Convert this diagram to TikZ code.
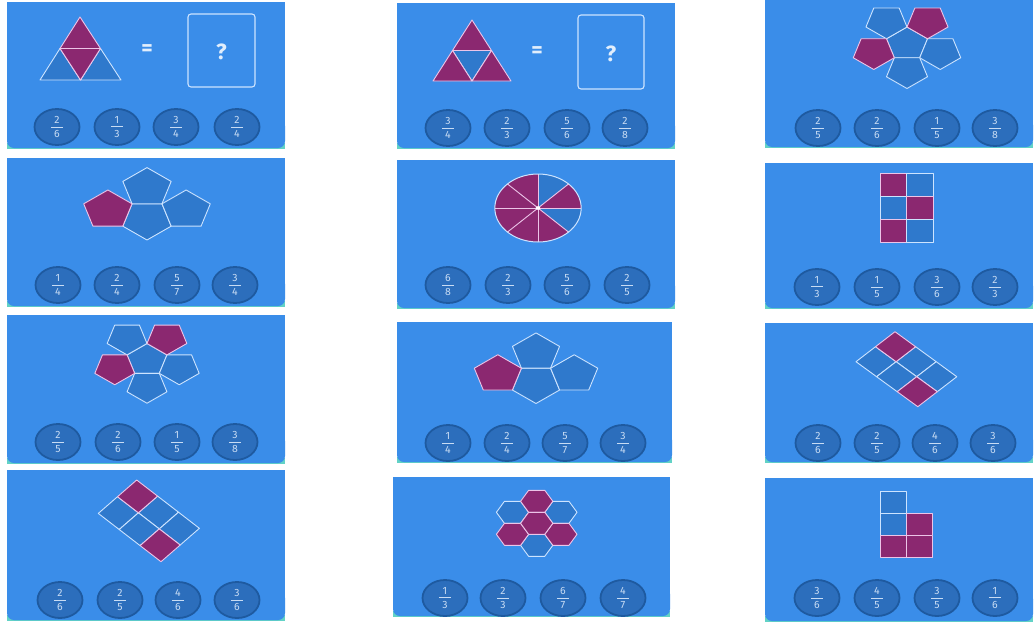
\documentclass[tikz,border=0pt]{standalone}
\usepackage{fontspec}
\newfontfamily\ff{Fira Sans}
\usetikzlibrary{shapes.geometric}
\definecolor{panelblue}{RGB}{58,141,233}
\definecolor{shapeblue}{RGB}{47,121,204}
\definecolor{purp}{RGB}{139,40,112}
\definecolor{btnfill}{RGB}{44,110,188}
\definecolor{btnedge}{RGB}{30,90,160}
\definecolor{txtcol}{RGB}{200,220,244}
\definecolor{edgecol}{RGB}{205,228,255}
\definecolor{pinkedge}{RGB}{236,196,232}
\definecolor{symcol}{RGB}{225,238,252}
\definecolor{tealc}{RGB}{98,210,198}
\newcommand\fr[2]{\vbox{\hbox to 12pt{\hss#1\hss}\kern3pt\hrule height 0.8pt\kern3pt\hbox to 12pt{\hss#2\hss}}}
\newcommand\panel[4]{%
  \fill[tealc] (#1,#4-6) rectangle (#3,#4);
  \fill[panelblue] (#1,#2) rectangle (#3,#4-15);
  \fill[panelblue,rounded corners=7pt] (#1,#4-30) rectangle (#3,#4-1);}
\newcommand\pg[4]{\filldraw[#4,shift={#1}] (#3:#2) -- (#3+72:#2) -- (#3+144:#2) -- (#3+216:#2) -- (#3+288:#2) -- cycle;}
\newcommand\hx[3]{\filldraw[#3,shift={#1}] (0:#2) -- (60:#2) -- (120:#2) -- (180:#2) -- (240:#2) -- (300:#2) -- cycle;}
\newcommand\dc[5]{\filldraw[#5] (#1,#2) -- (#3,#2) -- (#3,#4) -- (#1,#4) -- cycle;}
\begin{document}
\begin{tikzpicture}[x=1pt,y=-1pt,
  shp/.style={draw=edgecol,line width=0.9pt,line join=round},
  blu/.style={shp,fill=shapeblue},
  pur/.style={shp,fill=purp,draw=pinkedge},
  btn/.style={ellipse,draw=btnedge,line width=1.8pt,fill=btnfill,minimum width=45pt,minimum height=36pt,inner sep=0pt,text=txtcol,font=\ff\fontsize{10.5}{10.5}\selectfont},
  qbox/.style={draw=edgecol,line width=1.1pt,rounded corners=3pt},
  sym/.style={text=symcol,font=\ff\bfseries\fontsize{22}{22}\selectfont,inner sep=0pt}]
\fill[white] (0,0) rectangle (1035,627);
\useasboundingbox (0,0) rectangle (1035,627);

% panels
\panel{7}{2}{285}{149}
\panel{397}{3}{675}{149}
\panel{765}{0}{1033}{148}
\panel{7}{158}{285}{307}
\panel{397}{160}{675}{309}
\panel{765}{163}{1033}{309}
\panel{7}{315}{285}{464}
\panel{397}{322}{672}{463}
\panel{765}{323}{1033}{463}
\panel{7}{470}{285}{621}
\panel{393}{477}{670}{617}
\panel{765}{478}{1033}{622}

% ---- panel 1: triangle
\filldraw[blu] (60,48.5) -- (40,80) -- (80.5,80) -- cycle;
\filldraw[blu] (100.5,48.5) -- (80.5,80) -- (121,80) -- cycle;
\filldraw[pur] (80,17) -- (60,48.5) -- (100.5,48.5) -- cycle;
\filldraw[pur] (60,48.5) -- (100.5,48.5) -- (80.5,80) -- cycle;
\node[sym] (eq1) at (147,50) {=};
\draw[qbox] (188,14) rectangle (255,87);
\node[sym] (q1) at (221.5,52) {?};
\node[btn] (p1a) at (57,127) {\fr{2}{6}};
\node[btn] (p1b) at (117,127) {\fr{1}{3}};
\node[btn] (p1c) at (176,127) {\fr{3}{4}};
\node[btn] (p1d) at (237,127) {\fr{2}{4}};

% ---- panel 2: triangle
\filldraw[blu] (452.5,50.5) -- (491.5,50.5) -- (472,81) -- cycle;
\filldraw[pur] (472,20) -- (452.5,50.5) -- (491.5,50.5) -- cycle;
\filldraw[pur] (452.5,50.5) -- (433,81) -- (472,81) -- cycle;
\filldraw[pur] (491.5,50.5) -- (472,81) -- (511,81) -- cycle;
\node[sym] (eq2) at (537,52) {=};
\draw[qbox] (578,15) rectangle (644,89);
\node[sym] (q2) at (611,54) {?};
\node[btn] (p2a) at (448,128) {\fr{3}{4}};
\node[btn] (p2b) at (507,128) {\fr{2}{3}};
\node[btn] (p2c) at (567,128) {\fr{5}{6}};
\node[btn] (p2d) at (625,128) {\fr{2}{8}};

% ---- panel 3: pentagon flower
\begin{scope}[shift={(907,44)},xscale=1.27]
\pg{(0,0)}{17}{-90}{blu}
\pg{(234:27.5)}{17}{234}{blu}
\pg{(18:27.5)}{17}{18}{blu}
\pg{(90:27.5)}{17}{90}{blu}
\pg{(-54:27.5)}{17}{-54}{pur}
\pg{(162:27.5)}{17}{162}{pur}
\end{scope}
\node[btn] (p3a) at (818,128) {\fr{2}{5}};
\node[btn] (p3b) at (877,128) {\fr{2}{6}};
\node[btn] (p3c) at (937,128) {\fr{1}{5}};
\node[btn] (p3d) at (995,128) {\fr{3}{8}};

% ---- panel 4: four pentagons
\begin{scope}[shift={(147,220)},xscale=1.27]
\pg{(0,0)}{20}{90}{blu}
\pg{(270:32.4)}{20}{270}{blu}
\pg{(342:32.4)}{20}{342}{blu}
\pg{(198:32.4)}{20}{198}{pur}
\end{scope}
\node[btn] (p4a) at (58,285) {\fr{1}{4}};
\node[btn] (p4b) at (117,285) {\fr{2}{4}};
\node[btn] (p4c) at (177,285) {\fr{5}{7}};
\node[btn] (p4d) at (235,285) {\fr{3}{4}};

% ---- panel 5: circle
\begin{scope}[shift={(538,208)},xscale=1.27]
\fill[shapeblue] (0,0) -- (-90:34) arc[start angle=-90,end angle=-45,radius=34] -- cycle;
\fill[purp] (0,0) -- (-45:34) arc[start angle=-45,end angle=0,radius=34] -- cycle;
\fill[shapeblue] (0,0) -- (0:34) arc[start angle=0,end angle=45,radius=34] -- cycle;
\fill[purp] (0,0) -- (45:34) arc[start angle=45,end angle=270,radius=34] -- cycle;
\foreach \a in {0,45,...,315} \draw[pinkedge,line width=0.9pt] (0,0) -- (\a:34);
\draw[edgecol,line width=1pt] (0,0) circle[radius=34];
\fill[white] (0,0) circle[radius=1.8];
\end{scope}
\node[btn] (p5a) at (448,285) {\fr{6}{8}};
\node[btn] (p5b) at (508,285) {\fr{2}{3}};
\node[btn] (p5c) at (567,285) {\fr{5}{6}};
\node[btn] (p5d) at (627,285) {\fr{2}{5}};

% ---- panel 6: 2x3 grid
\dc{880}{173.3}{906.7}{196.3}{pur}
\dc{906.7}{173.3}{933.3}{196.3}{blu}
\dc{880}{196.3}{906.7}{219.3}{blu}
\dc{906.7}{196.3}{933.3}{219.3}{pur}
\dc{880}{219.3}{906.7}{242.3}{pur}
\dc{906.7}{219.3}{933.3}{242.3}{blu}
\node[btn] (p6a) at (817,287) {\fr{1}{3}};
\node[btn] (p6b) at (877,287) {\fr{1}{5}};
\node[btn] (p6c) at (937,287) {\fr{3}{6}};
\node[btn] (p6d) at (995,287) {\fr{2}{3}};

% ---- panel 7: pentagon flower
\begin{scope}[shift={(147,360)},xscale=1.27]
\pg{(0,0)}{16.5}{-90}{blu}
\pg{(234:26.7)}{16.5}{234}{blu}
\pg{(18:26.7)}{16.5}{18}{blu}
\pg{(90:26.7)}{16.5}{90}{blu}
\pg{(-54:26.7)}{16.5}{-54}{pur}
\pg{(162:26.7)}{16.5}{162}{pur}
\end{scope}
\node[btn] (p7a) at (58,442) {\fr{2}{5}};
\node[btn] (p7b) at (118,442) {\fr{2}{6}};
\node[btn] (p7c) at (177,442) {\fr{1}{5}};
\node[btn] (p7d) at (235,442) {\fr{3}{8}};

% ---- panel 8: four pentagons
\begin{scope}[shift={(536,384)},xscale=1.27]
\pg{(0,0)}{19.5}{90}{blu}
\pg{(270:31.6)}{19.5}{270}{blu}
\pg{(342:31.6)}{19.5}{342}{blu}
\pg{(198:31.6)}{19.5}{198}{pur}
\end{scope}
\node[btn] (p8a) at (448,443) {\fr{1}{4}};
\node[btn] (p8b) at (507,443) {\fr{2}{4}};
\node[btn] (p8c) at (565,443) {\fr{5}{7}};
\node[btn] (p8d) at (623,443) {\fr{3}{4}};

% ---- panel 9: tilted grid
\begin{scope}[shift={(895,331.7)},x={(20.6pt,-15pt)},y={(-19.5pt,-15pt)}]
\foreach \i/\j in {1/0,2/0,0/1,1/1} \filldraw[blu] (\i,\j) -- (\i+1,\j) -- (\i+1,\j+1) -- (\i,\j+1) -- cycle;
\foreach \i/\j in {0/0,2/1} \filldraw[pur] (\i,\j) -- (\i+1,\j) -- (\i+1,\j+1) -- (\i,\j+1) -- cycle;
\end{scope}
\node[btn] (p9a) at (818,443) {\fr{2}{6}};
\node[btn] (p9b) at (877,443) {\fr{2}{5}};
\node[btn] (p9c) at (935,443) {\fr{4}{6}};
\node[btn] (p9d) at (993,443) {\fr{3}{6}};

% ---- panel 10: tilted grid
\begin{scope}[shift={(136.7,480)},x={(20.9pt,-16.1pt)},y={(-19.2pt,-16.7pt)}]
\foreach \i/\j in {1/0,2/0,0/1,1/1} \filldraw[blu] (\i,\j) -- (\i+1,\j) -- (\i+1,\j+1) -- (\i,\j+1) -- cycle;
\foreach \i/\j in {0/0,2/1} \filldraw[pur] (\i,\j) -- (\i+1,\j) -- (\i+1,\j+1) -- (\i,\j+1) -- cycle;
\end{scope}
\node[btn] (p10a) at (60,600) {\fr{2}{6}};
\node[btn] (p10b) at (120,600) {\fr{2}{5}};
\node[btn] (p10c) at (178,600) {\fr{4}{6}};
\node[btn] (p10d) at (237,600) {\fr{3}{6}};

% ---- panel 11: hexagons
\begin{scope}[shift={(536.7,523.3)},xscale=1.27]
\hx{(210:22)}{12.7}{blu}
\hx{(-30:22)}{12.7}{blu}
\hx{(90:22)}{12.7}{blu}
\hx{(-90:22)}{12.7}{pur}
\hx{(150:22)}{12.7}{pur}
\hx{(30:22)}{12.7}{pur}
\hx{(0,0)}{12.7}{pur}
\end{scope}
\node[btn] (p11a) at (445,598) {\fr{1}{3}};
\node[btn] (p11b) at (503,598) {\fr{2}{3}};
\node[btn] (p11c) at (563,598) {\fr{6}{7}};
\node[btn] (p11d) at (623,598) {\fr{4}{7}};

% ---- panel 12: L-shape grid
\dc{880}{491.7}{906.3}{513.6}{blu}
\dc{880}{513.6}{906.3}{535.4}{blu}
\dc{906.3}{513.6}{932.7}{535.4}{pur}
\dc{880}{535.4}{906.3}{557.3}{pur}
\dc{906.3}{535.4}{932.7}{557.3}{pur}
\node[btn] (p12a) at (817,598) {\fr{3}{6}};
\node[btn] (p12b) at (877,598) {\fr{4}{5}};
\node[btn] (p12c) at (937,598) {\fr{3}{5}};
\node[btn] (p12d) at (995,598) {\fr{1}{6}};
\end{tikzpicture}
\end{document}
